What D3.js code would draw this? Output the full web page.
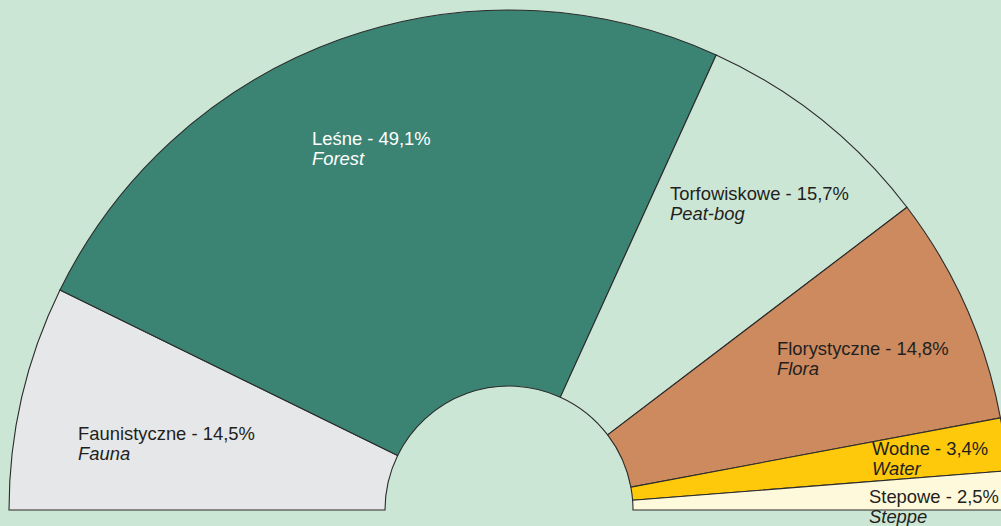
<!DOCTYPE html>
<html>
<head>
<meta charset="utf-8">
<script src="https://cdn.jsdelivr.net/npm/d3@7"></script>
<style>
  html, body { margin: 0; padding: 0; background: #cce6d5; }
  svg { display: block; }
</style>
</head>
<body>
<svg id="chart" width="1001" height="526"></svg>
<script>
// ---- data ----
const categories = ["Faunistyczne", "Leśne", "Torfowiskowe", "Florystyczne", "Wodne", "Stepowe"];
const englishNames = ["Fauna", "Forest", "Peat-bog", "Flora", "Water", "Steppe"];
const values = [14.5, 49.1, 15.7, 14.8, 3.4, 2.5];
const valueLabels = ["14,5%", "49,1%", "15,7%", "14,8%", "3,4%", "2,5%"];

// ---- style / layout ----
const colors = ["#e6e7e8", "#3b8474", "#cce6d5", "#cc8a5e", "#ffc90b", "#fff9dc"];
const textColors = ["#231f20", "#ffffff", "#231f20", "#231f20", "#231f20", "#231f20"];
const labelAnchors = [[78, 440], [312, 145], [670, 200], [777, 355], [872, 455], [869, 503]];
const W = 1001, H = 526;
const cx = 509, cy = 510, rInner = 124, rOuter = 500;

const svg = d3.select("#chart");
svg.append("rect").attr("width", W).attr("height", H).attr("fill", "#cce6d5");

const g = svg.append("g").attr("transform", `translate(${cx},${cy})`);

const pie = d3.pie().sort(null).startAngle(-Math.PI / 2).endAngle(Math.PI / 2);
const arc = d3.arc().innerRadius(rInner).outerRadius(rOuter);
const arcs = pie(values);

g.selectAll("path.slice")
  .data(arcs)
  .join("path")
  .attr("class", "slice")
  .attr("d", arc)
  .attr("fill", (d, i) => colors[i])
  .attr("stroke", "#2b2b2b")
  .attr("stroke-width", 1.1)
  .attr("stroke-linejoin", "miter");

const labels = svg.selectAll("text.lbl")
  .data(categories)
  .join("text")
  .attr("class", "lbl")
  .attr("x", (d, i) => labelAnchors[i][0])
  .attr("y", (d, i) => labelAnchors[i][1])
  .attr("fill", (d, i) => textColors[i])
  .style("font-family", "'Liberation Sans', Arial, sans-serif")
  .style("font-size", "18.4px");

labels.append("tspan")
  .text((d, i) => `${d} - ${valueLabels[i]}`);
labels.append("tspan")
  .attr("x", (d, i) => labelAnchors[i][0])
  .attr("dy", 19.5)
  .style("font-style", "italic")
  .text((d, i) => englishNames[i]);
</script>
</body>
</html>
